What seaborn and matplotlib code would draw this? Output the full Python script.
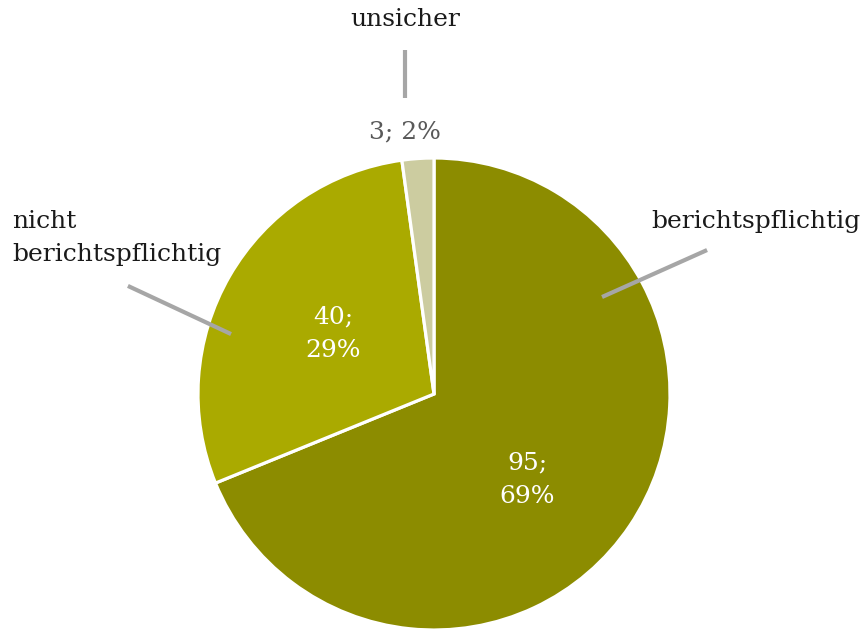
import matplotlib
matplotlib.use("Agg")
import matplotlib.pyplot as plt
import seaborn as sns

sns.set_theme(style="white")
plt.rcParams['font.family'] = ['DejaVu Serif']

categories = ["berichtspflichtig", "nicht\nberichtspflichtig", "unsicher"]
values = [95, 40, 3]
colors = ["#8C8C00", "#AAAA00", "#CCCCA0"]

W, H = 861, 629
fig = plt.figure(figsize=(W / 100, H / 100), dpi=100)
ax = fig.add_axes([0, 0, 1, 1])

cx, cy, R = 434, 394, 236
ax.pie(values, colors=colors, startangle=90, counterclock=False, radius=1,
       wedgeprops=dict(edgecolor="white", linewidth=2.3))
ax.set_xlim(-cx / R, (W - cx) / R)
ax.set_ylim(-(H - cy) / R, cy / R)
ax.set_aspect("auto")
ax.axis("off")

total = sum(values)
pct = [round(v / total * 100) for v in values]

fs = 18
ls = 1.6
gray_line = "#A6A6A6"
# value labels
ax.text(0.394, -0.364, f"{values[0]};\n{pct[0]}%", color="white", fontsize=fs,
        ha="center", va="center", linespacing=ls)
ax.text(-0.428, 0.254, f"{values[1]};\n{pct[1]}%", color="white", fontsize=fs,
        ha="center", va="center", linespacing=ls)
ax.text(-0.123, 1.110, f"{values[2]}; {pct[2]}%", color="#595959", fontsize=fs,
        ha="center", va="center")

# category labels
ax.text(0.919, 0.729, categories[0], color="#1a1a1a", fontsize=fs, ha="left", va="center")
ax.text(-1.788, 0.661, categories[1], color="#1a1a1a", fontsize=fs, ha="left", va="center",
        linespacing=ls)
ax.text(-0.123, 1.585, categories[2], color="#1a1a1a", fontsize=fs, ha="center", va="center")

# leader lines
ax.plot([1.157, 0.712], [0.610, 0.411], color=gray_line, lw=3, solid_capstyle="butt")
ax.plot([-1.297, -0.860], [0.458, 0.254], color=gray_line, lw=3, solid_capstyle="butt")
ax.plot([-0.123, -0.123], [1.457, 1.254], color=gray_line, lw=3, solid_capstyle="butt")

fig.savefig("out.png", dpi=100)
